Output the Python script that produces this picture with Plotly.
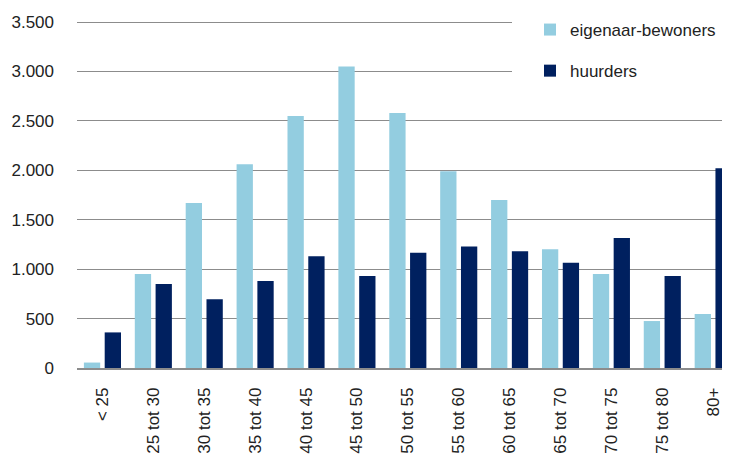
import plotly.graph_objects as go

categories = ["< 25", "25 tot 30", "30 tot 35", "35 tot 40", "40 tot 45", "45 tot 50",
              "50 tot 55", "55 tot 60", "60 tot 65", "65 tot 70", "70 tot 75", "75 tot 80", "80+"]
eigenaar_bewoners = [55, 950, 1670, 2060, 2550, 3050, 2580, 1990, 1700, 1200, 950, 475, 545]
huurders = [360, 850, 695, 880, 1130, 930, 1165, 1230, 1180, 1065, 1315, 930, 2020]
y_ticks = [0, 500, 1000, 1500, 2000, 2500, 3000, 3500]

FONT = "Liberation Sans, Arial, sans-serif"

fig = go.Figure()
fig.add_trace(go.Bar(x=categories, y=eigenaar_bewoners, name="eigenaar-bewoners",
                     marker=dict(color="#93CDE0", line=dict(width=0)), legendgroup="a"))
fig.add_trace(go.Bar(x=categories, y=huurders, name="huurders",
                     marker=dict(color="#00205F", line=dict(width=0)), legendgroup="b"))

# the page body has an 8px margin, so the figure is drawn 8px smaller/shifted
W, H = 722, 447
ml, mr, mt, mb = 69, 0, 4, 87
pw, ph = W - ml - mr, H - mt - mb
y0_px = H - mb                      # pixel of value 0 (figure coords)
units_per_px = 3500 / (y0_px - 14)  # 3500 sits at pixel 14
y_top = ph * units_per_px

fig.update_layout(
    width=W, height=H,
    margin=dict(l=ml, r=mr, t=mt, b=mb, pad=0, autoexpand=False),
    paper_bgcolor="white", plot_bgcolor="white",
    barmode="group", bargap=0.183, bargroupgap=0.216,
    separators=",.",
    font=dict(family=FONT, size=17, color="#222222"),
    showlegend=True,
    legend=dict(
        x=(522 - ml) / pw, xanchor="left",
        y=1.0, yanchor="top",
        bgcolor="rgba(0,0,0,0)", borderwidth=0,
        traceorder="grouped", tracegroupgap=16,
        font=dict(family=FONT, size=17, color="#222222"),
    ),
    shapes=[dict(type="rect", xref="paper", yref="paper",
                 x0=(504 - ml) / pw, x1=1.0,
                 y0=(y0_px - 92) / ph, y1=1.0,
                 fillcolor="white", line=dict(width=0), layer="above")],
)

fig.update_xaxes(
    type="category", range=[-0.5, 12.33], automargin=False,
    tickangle=-90, showgrid=False,
    showline=True, linecolor="#8C8C8C", linewidth=1.5,
    ticks="", ticklabelstandoff=11,
    tickfont=dict(family=FONT, size=17, color="#222222"),
)
fig.update_yaxes(
    range=[0, y_top], tickvals=y_ticks, tickformat=",d", automargin=False,
    showgrid=True, gridcolor="#8C8C8C", gridwidth=1.2,
    zeroline=False, showline=False, ticks="",
    ticklabelstandoff=22,
    tickfont=dict(family=FONT, size=17, color="#222222"),
)

fig.write_html("out.html")
